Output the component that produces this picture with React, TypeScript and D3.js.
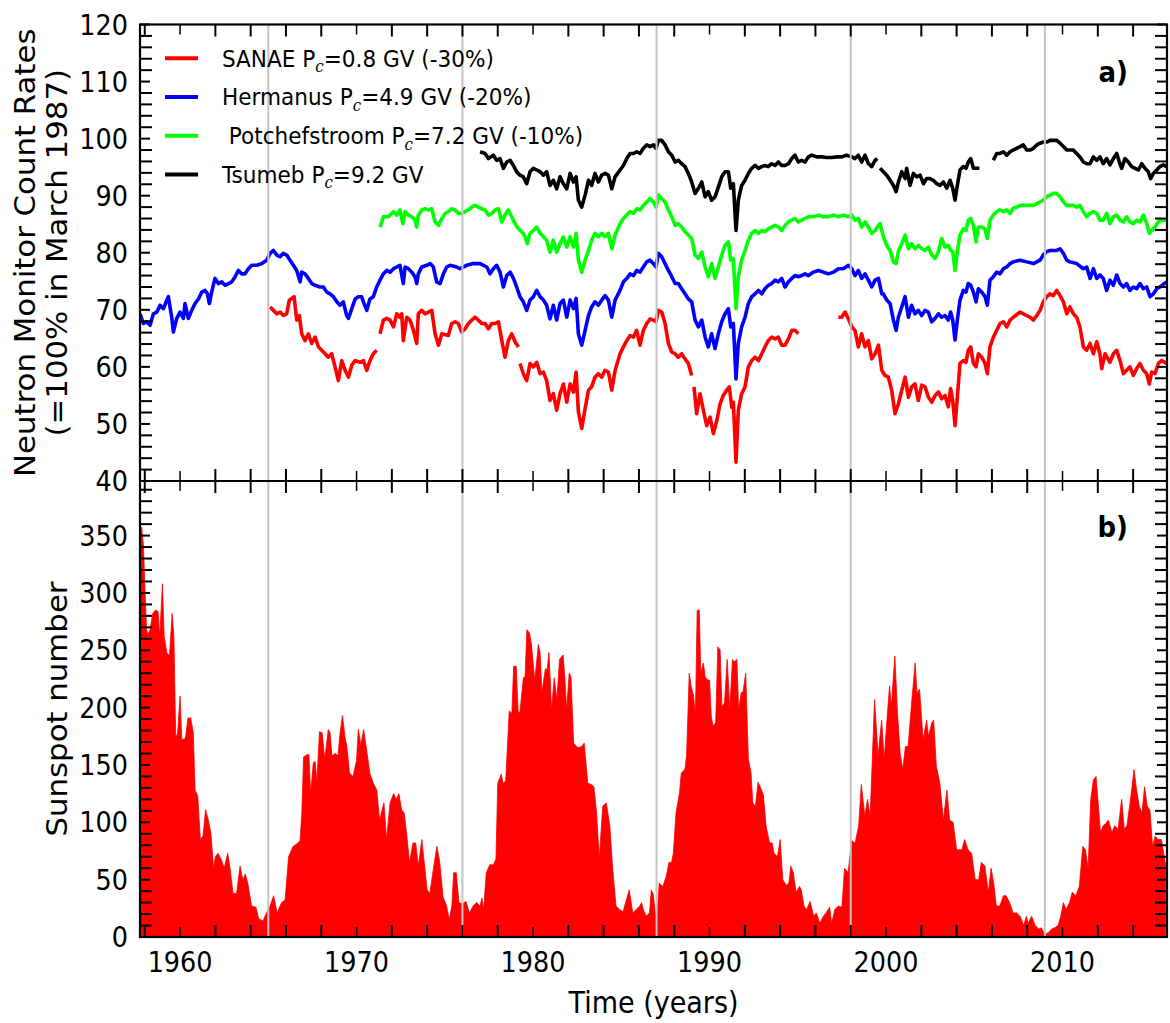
import React from 'react';
import * as d3 from 'd3';

type Pt = [number, number] | null;

// ---------------- DATA ----------------
// SANAE (Pc=0.8 GV, shifted -30%), null = data gap
const sanae: Pt[] = [
  [1965.10,70.5],[1965.29,69.9],[1965.48,69.3],[1965.67,69.6],[1965.85,69.0],[1966.04,69.3],[1966.19,71.7],[1966.33,72.0],[1966.46,72.3],[1966.61,68.2],[1966.76,69.0],[1966.89,65.8],[1967.08,64.6],[1967.27,65.8],[1967.46,64.1],[1967.65,65.2],[1967.84,63.5],[1968.03,62.9],[1968.22,62.3],[1968.40,61.7],[1968.59,62.3],[1968.78,60.0],[1968.97,57.6],[1969.16,61.1],[1969.35,59.4],[1969.54,58.2],[1969.73,60.3],[1969.92,61.1],[1970.20,60.8],[1970.39,61.1],[1970.58,59.4],[1970.76,61.1],[1970.95,62.3],[1971.14,62.9],
  null,
  [1971.33,65.8],[1971.52,68.2],[1971.71,68.5],[1971.90,68.2],[1972.09,67.0],[1972.28,69.3],[1972.46,68.7],[1972.56,69.3],[1972.65,64.6],[1972.84,68.7],[1973.03,68.2],[1973.13,67.3],[1973.22,66.4],[1973.41,64.1],[1973.50,69.3],[1973.69,69.9],[1973.88,69.3],[1974.07,69.6],[1974.26,69.9],[1974.45,65.8],[1974.64,63.8],[1974.83,65.8],[1975.20,65.5],[1975.39,67.6],[1975.58,67.9],[1975.77,67.6],[1975.96,66.1],[1976.15,66.7],[1976.34,67.6],[1976.53,68.2],[1976.71,68.7],[1976.90,68.2],[1977.09,67.6],[1977.28,67.6],[1977.47,66.7],[1977.66,67.6],[1977.85,67.6],[1978.04,67.9],[1978.23,64.6],[1978.41,61.7],[1978.60,64.6],[1978.79,65.8],[1978.98,64.4],[1979.17,63.5],
  null,
  [1979.26,60.6],[1979.45,58.8],[1979.64,57.6],[1979.83,60.6],[1980.02,60.0],[1980.21,60.8],[1980.40,58.8],[1980.59,59.1],[1980.77,57.6],[1980.96,54.1],[1981.15,55.3],[1981.34,52.4],[1981.53,55.3],[1981.72,57.0],[1981.91,53.8],[1982.10,57.0],[1982.29,55.6],[1982.44,59.1],[1982.57,52.1],[1982.76,49.2],[1982.95,52.7],[1983.14,55.9],[1983.32,56.5],[1983.51,58.2],[1983.70,58.8],[1983.89,58.2],[1984.08,59.4],[1984.27,59.1],[1984.46,55.9],[1984.65,59.4],[1984.93,62.3],[1985.12,63.5],[1985.31,64.6],[1985.50,65.5],[1985.69,65.2],[1985.87,66.4],[1986.06,63.8],[1986.25,66.4],[1986.44,67.6],[1986.63,68.4],[1986.82,68.2],[1986.97,67.9],[1987.10,69.9],[1987.29,69.6],[1987.48,67.6],[1987.67,64.1],[1987.86,62.6],[1988.05,62.3],[1988.23,61.7],[1988.42,62.3],[1988.61,61.4],[1988.80,60.6],[1988.99,58.5],
  null,
  [1989.12,56.5],[1989.27,51.8],[1989.46,55.3],[1989.65,52.4],[1989.84,49.7],[1990.03,51.2],[1990.22,48.3],[1990.41,50.6],[1990.60,53.5],[1990.78,55.0],[1990.97,55.9],[1991.12,56.5],[1991.26,52.9],[1991.35,53.8],[1991.50,43.3],[1991.63,52.4],[1991.82,55.3],[1992.01,56.5],[1992.20,60.0],[1992.39,61.1],[1992.58,61.7],[1992.77,61.1],[1992.96,62.3],[1993.14,63.5],[1993.33,64.6],[1993.52,65.2],[1993.71,64.9],[1993.90,65.2],[1994.09,63.8],[1994.28,63.8],[1994.47,64.9],[1994.66,66.4],[1994.84,66.4],[1995.03,65.8],
  null,
  [1997.30,68.7],[1997.49,68.7],[1997.68,69.6],[1997.87,68.4],[1998.06,67.0],[1998.24,66.4],[1998.43,63.5],[1998.62,65.8],[1998.81,63.5],[1999.00,64.6],[1999.19,61.4],[1999.38,62.3],[1999.57,63.8],[1999.76,59.4],[1999.94,58.5],[2000.13,58.2],[2000.32,55.9],[2000.51,51.8],[2000.70,53.5],[2000.89,55.9],[2001.08,58.2],[2001.27,54.7],[2001.45,56.5],[2001.64,57.0],[2001.83,54.1],[2002.02,56.8],[2002.21,56.5],[2002.40,54.7],[2002.59,53.8],[2002.78,55.0],[2002.97,55.6],[2003.15,54.4],[2003.34,55.0],[2003.53,53.0],[2003.66,56.2],[2003.78,54.1],[2003.91,49.7],[2004.04,54.7],[2004.19,60.6],[2004.38,61.1],[2004.53,60.8],[2004.66,62.9],[2004.80,63.5],[2004.95,60.6],[2005.10,60.0],[2005.23,62.3],[2005.42,61.7],[2005.61,60.6],[2005.74,58.8],[2005.89,63.5],[2006.08,65.2],[2006.27,66.4],[2006.46,67.6],[2006.65,67.9],[2006.84,67.0],[2007.03,68.2],[2007.21,68.7],[2007.59,69.6],[2007.78,69.3],[2008.16,68.7],[2008.35,68.2],[2008.54,69.0],[2008.73,69.9],[2008.91,71.4],[2009.10,72.3],[2009.29,72.8],[2009.48,72.5],[2009.67,73.4],[2009.86,72.5],[2010.05,71.4],[2010.24,69.3],[2010.42,70.5],[2010.61,69.3],[2010.80,68.7],[2010.99,67.0],[2011.18,63.5],[2011.37,62.9],[2011.56,64.1],[2011.75,62.3],[2011.94,64.4],[2012.12,62.3],[2012.22,59.7],[2012.41,62.3],[2012.69,60.8],[2012.88,62.3],[2013.07,62.9],[2013.26,61.1],[2013.45,58.8],[2013.63,59.4],[2013.82,60.0],[2014.01,58.5],[2014.20,59.7],[2014.39,60.6],[2014.58,59.4],[2014.77,58.8],[2014.92,57.0],[2015.05,59.1],[2015.24,58.8],[2015.43,60.6],[2015.62,61.1],[2015.90,60.6]
];

// Hermanus (Pc=4.9 GV, shifted -20%)
const hermanus: Pt[] = [
  [1957.73,69.3],[1957.92,67.6],[1958.11,67.9],[1958.30,67.3],[1958.49,69.3],[1958.68,69.6],[1958.87,70.8],[1959.06,70.2],[1959.21,71.4],[1959.34,72.3],[1959.43,70.5],[1959.53,68.7],[1959.62,66.1],[1959.81,68.5],[1960.00,69.6],[1960.19,68.5],[1960.28,71.1],[1960.47,68.5],[1960.66,69.9],[1960.85,71.1],[1961.04,71.9],[1961.23,73.1],[1961.42,73.4],[1961.55,72.8],[1961.66,71.1],[1961.79,73.1],[1961.98,75.5],[1962.17,74.6],[1962.36,74.9],[1962.55,74.3],[1962.74,74.6],[1962.93,74.9],[1963.12,75.8],[1963.30,76.9],[1963.49,76.3],[1963.68,76.3],[1963.87,77.2],[1964.06,77.8],[1964.34,77.8],[1964.63,78.1],[1964.91,78.7],[1965.10,79.9],[1965.29,80.4],[1965.48,79.6],[1965.67,79.3],[1965.85,79.9],[1966.04,79.6],[1966.23,78.7],[1966.42,77.8],[1966.61,76.9],[1966.80,74.9],[1966.89,76.6],[1967.08,76.3],[1967.27,75.5],[1967.46,74.6],[1967.65,74.3],[1967.93,74.0],[1968.12,74.0],[1968.31,73.1],[1968.50,72.8],[1968.69,72.3],[1968.88,71.4],[1969.06,70.8],[1969.25,71.4],[1969.44,69.0],[1969.54,68.5],[1969.73,70.2],[1969.92,71.9],[1970.10,72.3],[1970.29,72.3],[1970.39,71.4],[1970.58,69.9],[1970.76,71.9],[1970.95,72.3],[1971.14,74.0],[1971.33,75.2],[1971.52,76.3],[1971.71,76.9],[1971.90,76.6],[1972.09,77.2],[1972.28,77.5],[1972.46,77.8],[1972.65,74.6],[1972.75,77.5],[1972.94,77.2],[1973.13,76.6],[1973.31,75.8],[1973.41,74.6],[1973.50,76.3],[1973.69,77.5],[1973.98,77.8],[1974.17,78.1],[1974.35,77.5],[1974.54,74.9],[1974.73,74.6],[1974.92,76.3],[1975.11,77.5],[1975.30,77.8],[1975.68,77.5],[1975.86,77.2],[1976.24,77.8],[1976.62,78.1],[1977.00,78.1],[1977.38,77.5],[1977.56,76.3],[1977.75,77.2],[1977.94,77.8],[1978.13,76.6],[1978.32,74.0],[1978.51,76.0],[1978.70,76.6],[1978.89,75.5],[1979.07,74.0],[1979.26,72.3],[1979.45,71.4],[1979.64,69.9],[1979.83,71.7],[1980.02,72.3],[1980.21,73.4],[1980.40,72.3],[1980.59,71.7],[1980.77,70.8],[1980.96,68.4],[1981.15,70.8],[1981.34,68.2],[1981.53,71.1],[1981.72,71.7],[1981.91,68.7],[1982.10,71.7],[1982.29,70.2],[1982.44,72.0],[1982.57,65.8],[1982.76,63.8],[1982.95,66.4],[1983.14,69.0],[1983.32,70.5],[1983.51,71.4],[1983.70,70.8],[1983.89,71.7],[1984.08,72.5],[1984.27,71.7],[1984.46,68.7],[1984.65,71.7],[1984.93,73.4],[1985.12,74.9],[1985.31,75.5],[1985.50,76.3],[1985.69,76.0],[1985.87,76.9],[1986.06,76.6],[1986.25,77.5],[1986.44,78.4],[1986.63,78.7],[1986.82,78.1],[1986.97,77.5],[1987.10,79.9],[1987.29,79.3],[1987.48,78.1],[1987.67,76.9],[1987.86,75.8],[1988.05,74.6],[1988.23,74.6],[1988.42,73.7],[1988.61,72.8],[1988.80,71.9],[1988.99,71.4],[1989.18,68.2],[1989.37,67.0],[1989.56,68.2],[1989.75,65.2],[1989.93,63.5],[1990.12,65.8],[1990.31,63.2],[1990.50,65.8],[1990.69,67.9],[1990.88,69.3],[1991.07,70.2],[1991.20,67.0],[1991.35,67.6],[1991.50,57.9],[1991.63,64.1],[1991.82,67.0],[1992.01,68.7],[1992.20,71.1],[1992.39,72.3],[1992.58,72.8],[1992.77,73.4],[1992.96,72.8],[1993.14,73.7],[1993.33,74.3],[1993.52,74.6],[1993.71,75.2],[1993.90,74.9],[1994.09,75.5],[1994.28,74.0],[1994.47,74.9],[1994.66,75.5],[1994.84,76.0],[1995.03,75.8],[1995.22,76.0],[1995.41,76.3],[1995.60,76.0],[1995.88,76.6],[1996.17,76.9],[1996.45,76.6],[1996.73,76.3],[1997.02,76.6],[1997.30,77.2],[1997.58,77.2],[1997.87,77.8],[1998.06,77.2],[1998.24,76.0],[1998.43,76.9],[1998.62,75.5],[1998.81,76.3],[1999.00,75.2],[1999.19,74.0],[1999.38,75.2],[1999.57,75.5],[1999.76,72.8],[1999.85,72.8],[2000.04,71.7],[2000.23,71.1],[2000.42,68.2],[2000.57,66.4],[2000.70,68.7],[2000.89,70.5],[2001.08,72.3],[2001.27,68.7],[2001.45,70.8],[2001.64,69.3],[2001.83,69.9],[2002.02,69.0],[2002.21,69.9],[2002.40,69.6],[2002.59,67.9],[2002.78,68.5],[2002.97,69.3],[2003.15,68.7],[2003.34,69.0],[2003.53,68.2],[2003.66,69.6],[2003.78,68.2],[2003.91,64.7],[2004.04,68.2],[2004.19,71.7],[2004.38,73.4],[2004.53,73.1],[2004.66,74.6],[2004.80,74.3],[2004.95,73.1],[2005.10,71.4],[2005.23,73.7],[2005.42,73.1],[2005.61,72.3],[2005.74,70.8],[2005.89,75.2],[2006.08,75.8],[2006.27,76.6],[2006.46,76.3],[2006.65,77.2],[2006.84,77.5],[2007.03,78.1],[2007.21,78.4],[2007.59,78.7],[2007.97,78.4],[2008.35,78.1],[2008.73,78.7],[2008.91,79.6],[2009.10,80.2],[2009.29,80.4],[2009.67,80.4],[2009.86,80.7],[2010.05,79.9],[2010.24,78.7],[2010.42,78.4],[2010.80,78.1],[2011.18,77.2],[2011.37,77.5],[2011.56,75.5],[2011.75,77.2],[2011.94,75.5],[2012.12,76.1],[2012.31,75.5],[2012.50,73.4],[2012.69,75.2],[2012.88,74.3],[2013.07,76.1],[2013.26,74.6],[2013.45,74.0],[2013.63,74.6],[2013.82,73.4],[2014.01,74.0],[2014.20,73.7],[2014.39,74.6],[2014.58,73.7],[2014.77,74.0],[2014.96,72.3],[2015.15,72.8],[2015.34,73.7],[2015.52,74.0],[2015.90,74.9]
];

// Potchefstroom (Pc=7.2 GV, shifted -10%)
const potchefstroom: Pt[] = [
  [1971.33,84.5],[1971.52,86.3],[1971.80,86.3],[1972.09,87.2],[1972.28,86.6],[1972.46,87.5],[1972.62,85.1],[1972.75,87.2],[1972.94,86.6],[1973.13,86.3],[1973.31,85.7],[1973.41,84.5],[1973.50,86.6],[1973.69,87.5],[1973.88,87.7],[1974.07,87.5],[1974.26,87.7],[1974.45,85.4],[1974.64,84.8],[1974.83,86.0],[1975.02,86.9],[1975.20,87.2],[1975.39,87.7],[1975.58,87.5],[1975.77,86.9],[1975.96,86.9],[1976.15,87.2],[1976.34,87.5],[1976.53,88.0],[1976.71,88.3],[1976.90,88.0],[1977.09,87.7],[1977.28,87.5],[1977.47,86.6],[1977.66,86.9],[1977.85,87.5],[1978.04,87.7],[1978.23,85.4],[1978.41,86.6],[1978.60,87.5],[1978.79,86.3],[1978.98,85.1],[1979.17,84.2],[1979.36,83.7],[1979.55,82.8],[1979.68,81.6],[1979.83,83.4],[1980.02,83.9],[1980.21,84.5],[1980.40,83.4],[1980.59,82.8],[1980.77,82.2],[1980.96,80.1],[1981.15,82.2],[1981.34,80.1],[1981.53,81.6],[1981.72,82.8],[1981.91,81.0],[1982.10,82.8],[1982.29,81.0],[1982.44,83.4],[1982.57,78.7],[1982.76,76.6],[1982.95,78.7],[1983.14,80.4],[1983.32,82.2],[1983.51,83.4],[1983.70,82.8],[1983.89,83.4],[1984.08,82.8],[1984.27,83.4],[1984.46,80.7],[1984.65,83.1],[1984.93,85.1],[1985.12,86.0],[1985.31,86.6],[1985.50,87.2],[1985.69,86.9],[1985.87,87.7],[1986.06,87.5],[1986.25,88.3],[1986.44,88.9],[1986.63,89.5],[1986.82,88.9],[1986.97,88.0],[1987.10,90.1],[1987.29,89.5],[1987.48,88.9],[1987.67,87.5],[1987.86,86.3],[1988.05,84.8],[1988.23,85.1],[1988.42,84.5],[1988.61,83.7],[1988.80,83.1],[1988.99,82.5],[1989.18,79.6],[1989.37,79.0],[1989.56,80.1],[1989.75,77.5],[1989.93,75.8],[1990.12,78.1],[1990.31,75.5],[1990.50,77.5],[1990.69,79.6],[1990.88,81.3],[1991.07,81.9],[1991.20,78.7],[1991.35,79.0],[1991.50,70.2],[1991.63,75.8],[1991.82,78.7],[1992.01,80.4],[1992.20,82.2],[1992.39,83.4],[1992.58,83.9],[1992.77,83.4],[1992.96,83.9],[1993.14,83.7],[1993.33,84.2],[1993.52,84.5],[1993.71,84.8],[1993.90,84.5],[1994.09,83.9],[1994.28,84.8],[1994.47,85.4],[1994.66,85.7],[1994.84,86.0],[1995.03,85.4],[1995.22,85.7],[1995.41,86.0],[1995.60,86.3],[1995.88,86.3],[1996.17,86.6],[1996.45,86.3],[1996.73,86.3],[1997.02,86.6],[1997.30,86.3],[1997.58,86.6],[1997.87,86.3],[1998.06,86.6],[1998.24,85.7],[1998.43,86.0],[1998.62,84.5],[1998.81,85.4],[1999.00,84.5],[1999.19,83.4],[1999.38,83.9],[1999.57,84.8],[1999.66,85.1],[1999.85,82.8],[2000.04,81.3],[2000.23,80.4],[2000.42,78.4],[2000.57,78.1],[2000.70,80.2],[2000.89,81.6],[2001.08,83.1],[2001.27,80.7],[2001.45,81.6],[2001.64,80.7],[2001.83,81.3],[2002.02,80.7],[2002.21,80.4],[2002.40,81.0],[2002.59,79.6],[2002.78,79.0],[2002.97,80.2],[2003.15,82.5],[2003.34,81.0],[2003.53,81.3],[2003.66,80.4],[2003.78,80.2],[2003.91,76.9],[2004.04,80.2],[2004.19,83.1],[2004.38,84.2],[2004.53,83.9],[2004.66,85.7],[2004.80,86.0],[2004.95,84.8],[2005.10,81.9],[2005.23,84.5],[2005.42,84.5],[2005.61,84.2],[2005.74,82.5],[2005.89,85.7],[2006.08,86.6],[2006.27,87.2],[2006.46,87.5],[2006.65,87.2],[2006.84,87.5],[2007.03,86.9],[2007.21,87.8],[2007.40,88.0],[2007.59,88.3],[2007.97,88.3],[2008.35,88.3],[2008.54,88.6],[2008.73,88.9],[2008.91,89.2],[2009.10,89.8],[2009.29,90.1],[2009.48,90.4],[2009.67,90.4],[2009.86,89.8],[2010.05,88.9],[2010.24,88.3],[2010.61,88.3],[2010.80,88.0],[2010.99,88.3],[2011.18,87.2],[2011.37,86.3],[2011.56,86.9],[2011.75,87.2],[2011.94,86.9],[2012.12,85.7],[2012.31,85.7],[2012.50,86.9],[2012.69,85.1],[2012.88,86.3],[2013.07,86.6],[2013.26,85.7],[2013.45,85.4],[2013.63,86.3],[2013.82,85.4],[2014.01,85.1],[2014.20,85.7],[2014.39,85.4],[2014.58,86.6],[2014.77,85.1],[2014.92,83.4],[2015.05,83.9],[2015.24,84.5],[2015.43,85.4],[2015.62,85.7],[2015.90,85.7]
];

// Tsumeb (Pc=9.2 GV)
const tsumeb: Pt[] = [
  [1977.00,97.7],[1977.28,97.4],[1977.47,96.5],[1977.75,97.1],[1977.94,96.2],[1978.13,96.5],[1978.32,94.8],[1978.51,95.9],[1978.70,96.2],[1978.89,95.3],[1979.07,94.2],[1979.26,93.6],[1979.45,93.3],[1979.64,92.1],[1979.83,94.2],[1980.02,94.8],[1980.21,94.5],[1980.40,94.2],[1980.59,93.6],[1980.77,94.2],[1980.96,91.8],[1981.15,92.7],[1981.34,91.2],[1981.53,93.3],[1981.72,92.1],[1981.91,91.2],[1982.10,93.9],[1982.29,92.4],[1982.44,93.3],[1982.57,89.2],[1982.76,88.0],[1982.95,90.1],[1983.14,92.7],[1983.32,91.8],[1983.51,93.9],[1983.70,92.4],[1983.89,93.6],[1984.08,93.9],[1984.27,93.6],[1984.46,91.2],[1984.65,93.3],[1984.93,94.5],[1985.12,95.3],[1985.31,96.5],[1985.50,97.4],[1985.69,97.4],[1985.87,97.7],[1986.06,97.4],[1986.25,98.3],[1986.44,98.9],[1986.63,98.6],[1986.82,98.9],[1986.97,98.3],[1987.10,99.7],[1987.29,99.7],[1987.48,98.9],[1987.67,97.7],[1987.86,97.1],[1988.05,95.9],[1988.23,96.2],[1988.42,95.6],[1988.61,95.1],[1988.80,93.9],[1988.99,92.4],[1989.18,90.4],[1989.37,91.3],[1989.56,92.4],[1989.75,89.8],[1989.93,90.7],[1990.12,89.2],[1990.31,89.8],[1990.50,91.5],[1990.69,93.3],[1990.88,94.2],[1991.07,94.2],[1991.20,91.3],[1991.35,92.1],[1991.50,83.9],[1991.63,89.2],[1991.82,91.8],[1992.01,92.7],[1992.20,93.9],[1992.39,94.8],[1992.58,95.3],[1992.77,94.8],[1992.96,95.1],[1993.14,95.3],[1993.33,95.1],[1993.52,95.6],[1993.71,95.3],[1993.90,95.9],[1994.09,95.3],[1994.28,95.3],[1994.47,95.6],[1994.66,96.5],[1994.84,97.1],[1995.03,95.9],[1995.22,96.2],[1995.41,95.9],[1995.60,96.8],[1995.79,97.1],[1996.07,96.8],[1996.36,96.8],[1996.64,96.7],[1996.92,96.7],[1997.21,96.8],[1997.49,96.8],[1997.77,97.1],[1998.06,96.8],[1998.24,96.5],[1998.43,97.1],[1998.62,95.9],[1998.81,97.1],[1999.00,95.6],[1999.19,95.1],[1999.38,96.2],[1999.51,96.5],
  null,
  [1999.66,94.8],[1999.85,94.2],[2000.04,93.6],[2000.23,92.7],[2000.42,91.8],[2000.57,90.7],[2000.70,92.4],[2000.89,94.2],[2001.08,93.0],[2001.17,94.8],[2001.36,91.8],[2001.55,93.9],[2001.74,93.3],[2001.93,93.6],[2002.12,92.1],[2002.30,93.0],[2002.49,93.0],[2002.68,92.7],[2002.87,92.1],[2003.06,91.8],[2003.25,92.4],[2003.44,91.3],[2003.63,92.7],[2003.78,91.3],[2003.91,89.2],[2004.04,91.8],[2004.19,94.5],[2004.38,95.1],[2004.53,94.8],[2004.66,95.9],[2004.80,96.5],[2004.95,94.8],[2005.14,94.8],[2005.29,94.8],
  null,
  [2006.08,96.2],[2006.27,97.4],[2006.46,97.4],[2006.65,97.7],[2006.84,97.1],[2007.03,97.7],[2007.21,98.0],[2007.40,98.3],[2007.59,98.6],[2007.78,98.9],[2007.97,98.0],[2008.16,98.0],[2008.35,98.3],[2008.54,98.9],[2008.73,99.2],[2008.91,99.4],[2009.10,99.4],[2009.29,99.7],[2009.48,99.7],[2009.67,99.7],[2009.86,99.2],[2010.05,98.6],[2010.24,98.0],[2010.42,98.0],[2010.61,98.0],[2010.80,97.4],[2010.99,96.8],[2011.18,95.9],[2011.37,95.6],[2011.56,95.6],[2011.75,96.8],[2011.94,96.2],[2012.12,96.8],[2012.31,95.6],[2012.50,96.5],[2012.69,95.4],[2012.88,96.5],[2013.07,97.4],[2013.22,95.9],[2013.35,94.8],[2013.54,96.5],[2013.73,95.9],[2013.92,95.1],[2014.11,94.8],[2014.30,94.5],[2014.49,95.6],[2014.67,94.8],[2014.86,94.2],[2014.99,93.0],[2015.15,93.9],[2015.34,94.5],[2015.52,95.1],[2015.71,95.4],[2015.90,95.1]
];

// Sunspot number
const sunspots: [number, number][] = [
  [1957.74,358],[1957.83,357],[1957.93,340],[1958.02,300],[1958.1,268],[1958.2,264],[1958.3,268],[1958.45,282],[1958.6,285],[1958.75,284],[1958.85,262],[1959.0,308],[1959.1,262],[1959.25,248],[1959.4,245],[1959.55,282],[1959.65,262],[1959.75,177],[1959.85,175],[1960.0,210],[1960.1,172],[1960.3,173],[1960.45,191],[1960.6,191],[1960.75,178],[1960.85,128],[1961.0,123],[1961.15,85],[1961.3,88],[1961.45,111],[1961.6,102],[1961.75,90],[1961.9,60],[1962.0,70],[1962.15,73],[1962.35,67],[1962.5,60],[1962.7,73],[1962.85,58],[1963.0,38],[1963.2,38],[1963.4,62],[1963.55,50],[1963.7,55],[1963.85,46],[1964.05,27],[1964.3,26],[1964.45,16],[1964.7,14],[1964.9,21],[1965.1,27],[1965.3,36],[1965.5,21],[1965.75,30],[1965.95,32],[1966.15,70],[1966.4,79],[1966.6,81],[1966.8,84],[1966.9,108],[1967.0,157],[1967.2,159],[1967.3,159],[1967.4,125],[1967.55,152],[1967.65,153],[1967.75,135],[1967.9,179],[1968.05,178],[1968.2,155],[1968.4,181],[1968.5,178],[1968.6,158],[1968.8,160],[1968.95,158],[1969.05,176],[1969.2,193],[1969.35,174],[1969.45,166],[1969.6,143],[1969.8,140],[1970.0,154],[1970.1,181],[1970.25,167],[1970.4,181],[1970.6,160],[1970.75,143],[1970.95,134],[1971.15,128],[1971.3,102],[1971.4,108],[1971.55,117],[1971.7,85],[1971.9,117],[1972.1,125],[1972.25,120],[1972.4,125],[1972.55,111],[1972.7,108],[1972.85,88],[1973.0,65],[1973.2,82],[1973.35,82],[1973.5,62],[1973.7,85],[1973.8,70],[1974.0,41],[1974.15,38],[1974.35,59],[1974.55,79],[1974.7,67],[1974.9,35],[1975.1,27],[1975.25,15],[1975.4,27],[1975.5,56],[1975.65,56],[1975.8,30],[1976.0,29],[1976.2,31],[1976.4,21],[1976.6,27],[1976.8,30],[1977.0,27],
  [1977.1,34],[1977.2,24],[1977.35,56],[1977.55,63],[1977.75,63],[1977.9,68],[1978.0,134],[1978.2,142],[1978.3,134],[1978.45,136],[1978.65,197],[1978.8,195],[1978.9,236],[1979.05,236],[1979.15,197],[1979.25,195],[1979.45,226],[1979.55,227],[1979.65,268],[1979.8,265],[1979.9,256],[1980.1,224],[1980.3,255],[1980.4,248],[1980.5,213],[1980.7,234],[1980.8,233],[1980.9,248],[1981.05,198],[1981.2,226],[1981.35,207],[1981.5,242],[1981.7,246],[1981.8,227],[1981.9,198],[1982.05,230],[1982.15,227],[1982.3,169],[1982.55,165],[1982.75,166],[1982.9,169],[1983.1,134],[1983.3,133],[1983.45,131],[1983.6,108],[1983.75,68],[1983.95,114],[1984.15,117],[1984.35,97],[1984.5,62],[1984.7,27],[1984.9,24],[1985.1,22],[1985.3,33],[1985.45,41],[1985.65,21],[1985.85,24],[1986.05,27],[1986.15,30],[1986.25,24],[1986.4,18],[1986.6,21],[1986.7,41],[1986.8,38],[1987.0,12],[1987.15,47],[1987.35,44],[1987.55,53],[1987.7,65],[1987.85,65],[1987.95,73],[1988.1,108],[1988.3,126],[1988.4,143],[1988.6,146],[1988.7,158],[1988.85,230],[1988.95,219],[1989.1,210],[1989.2,192],[1989.3,285],[1989.42,285],[1989.5,230],[1989.65,239],[1989.75,227],[1989.9,224],[1990.0,224],[1990.1,192],[1990.2,184],[1990.35,187],[1990.47,253],[1990.6,250],[1990.7,201],[1990.85,204],[1991.0,242],[1991.15,198],[1991.3,242],[1991.4,240],[1991.55,242],[1991.65,198],[1991.8,213],[1991.9,214],[1992.05,230],[1992.2,155],[1992.35,143],[1992.45,117],[1992.6,114],[1992.75,135],[1992.9,130],[1993.05,124],[1993.2,97],[1993.4,82],[1993.55,82],[1993.65,73],[1993.85,70],[1994.0,85],[1994.15,50],[1994.35,45],[1994.5,47],[1994.6,62],[1994.75,56],[1994.9,39],[1995.1,44],[1995.2,41],[1995.35,27],[1995.5,24],
  [1995.7,31],[1995.9,18],[1996.05,21],[1996.25,12],[1996.45,18],[1996.6,21],[1996.8,26],[1996.92,12],[1997.1,24],[1997.3,27],[1997.5,26],[1997.65,60],[1997.85,56],[1998.05,84],[1998.25,82],[1998.45,97],[1998.6,133],[1998.8,105],[1998.95,120],[1999.1,105],[1999.35,207],[1999.55,158],[1999.75,189],[1999.9,155],[2000.05,189],[2000.2,219],[2000.3,201],[2000.5,245],[2000.65,195],[2000.8,160],[2000.95,146],[2001.1,166],[2001.25,166],[2001.45,204],[2001.65,239],[2001.75,213],[2001.9,216],[2002.1,172],[2002.3,189],[2002.4,175],[2002.6,187],[2002.7,189],[2002.85,149],[2003.05,134],[2003.25,102],[2003.45,128],[2003.6,102],[2003.8,100],[2004.0,76],[2004.15,76],[2004.3,76],[2004.45,85],[2004.65,76],[2004.85,73],[2005.05,50],[2005.25,50],[2005.4,65],[2005.6,62],[2005.8,39],[2005.95,60],[2006.1,47],[2006.25,27],[2006.45,27],[2006.65,36],[2006.8,36],[2007.0,30],[2007.2,21],[2007.4,21],[2007.6,18],[2007.8,10],[2007.95,18],[2008.05,12],[2008.25,18],[2008.45,10],[2008.65,7],[2008.8,8],[2009.0,2],[2009.2,4],[2009.4,7],[2009.55,8],[2009.75,10],[2009.9,18],[2010.05,30],[2010.2,24],[2010.4,30],[2010.55,39],[2010.75,36],[2010.95,44],[2011.15,79],[2011.3,76],[2011.45,59],[2011.6,120],[2011.75,137],[2011.9,140],[2012.05,111],[2012.15,91],[2012.3,97],[2012.45,99],[2012.6,102],[2012.8,91],[2012.95,97],[2013.15,94],[2013.35,120],[2013.5,94],[2013.65,97],[2013.8,114],[2013.9,126],[2014.05,146],[2014.2,128],[2014.35,114],[2014.5,108],[2014.65,131],[2014.8,114],[2014.95,111],[2015.1,79],[2015.25,88],[2015.4,85],[2015.6,85],[2015.85,62]
];

const minimaYears = [1965, 1976, 1987, 1998, 2009];
const xTickLabels = [1960, 1970, 1980, 1990, 2000, 2010];
const nmTickLabels = [40, 50, 60, 70, 80, 90, 100, 110, 120];
const ssTickLabels = [0, 50, 100, 150, 200, 250, 300, 350];

const legendNames = ['SANAE', 'Hermanus', ' Potchefstroom', 'Tsumeb'];
const legendRigidity = ['0.8', '4.9', '7.2', '9.2'];
const legendShift = [' (-30%)', ' (-20%)', ' (-10%)', ''];
const seriesColors = ['#ff0000', '#0000ff', '#00ff00', '#000000'];
const seriesData = [sanae, hermanus, potchefstroom, tsumeb];

// ---------------- LAYOUT ----------------
const W = 1170, H = 1023;
const L = 140, R = 1167, T1 = 24.5, MID = 481, B2 = 937;
const FONT = 'DejaVu Sans, sans-serif';

export default function App() {
  const x = d3.scaleLinear().domain([1957.73, 2015.92]).range([L, R]);
  const yNM = d3.scaleLinear().domain([40, 120]).range([MID, T1]);
  const ySS = d3.scaleLinear().domain([0, 397.6]).range([B2, MID]);

  const line = d3.line<Pt>()
    .defined(d => d !== null)
    .x(d => x((d as [number, number])[0]))
    .y(d => yNM((d as [number, number])[1]));

  const area = d3.area<[number, number]>()
    .x(d => x(d[0]))
    .y0(ySS(0))
    .y1(d => ySS(d[1]));

  const xTicks = d3.range(1958, 2016, 2);
  const nmTicks = d3.range(40, 121, 2);
  const ssTicks = d3.range(0, 391, 10);

  const tickMajor = 10, tickMinor = 12;
  const tickEls: JSX.Element[] = [];
  const edges: [number, number][] = [[T1, 1], [MID, -1], [MID, 1], [B2, -1]];
  xTicks.forEach(t => {
    const major = t % 10 === 0;
    const len = major ? tickMajor : tickMinor;
    edges.forEach(([ey, dir], i) => {
      tickEls.push(<line key={`xt${t}-${i}`} x1={x(t)} x2={x(t)} y1={ey} y2={ey + dir * len} stroke="#000" strokeWidth={major ? 1.5 : 2} />);
    });
  });
  nmTicks.forEach(t => {
    const major = t % 10 === 0;
    const len = major ? tickMajor : tickMinor;
    const yy = yNM(t);
    tickEls.push(<line key={`nl${t}`} x1={L} x2={L + len} y1={yy} y2={yy} stroke="#000" strokeWidth={2} />);
    tickEls.push(<line key={`nr${t}`} x1={R} x2={R - len} y1={yy} y2={yy} stroke="#000" strokeWidth={2} />);
  });
  ssTicks.forEach(t => {
    const major = t % 50 === 0;
    const len = major ? tickMajor : tickMinor;
    const yy = ySS(t);
    tickEls.push(<line key={`sl${t}`} x1={L} x2={L + len} y1={yy} y2={yy} stroke="#000" strokeWidth={2} />);
    tickEls.push(<line key={`sr${t}`} x1={R} x2={R - len} y1={yy} y2={yy} stroke="#000" strokeWidth={2} />);
  });

  const tickFs = 25.5, sy = 1.1;

  return (
    <svg width={W} height={H} style={{ position: 'absolute', left: 0, top: 0, background: '#fff' }} fontFamily={FONT}>
      <defs>
        <clipPath id="clipTop"><rect x={L} y={T1} width={R - L} height={MID - T1} /></clipPath>
        <clipPath id="clipBot"><rect x={L} y={MID} width={R - L} height={B2 - MID} /></clipPath>
      </defs>
      <rect x={0} y={0} width={W} height={H} fill="#fff" />

      <g clipPath="url(#clipBot)">
        <path d={area(sunspots) || ''} fill="#ff0000" stroke="#ff0000" strokeWidth={0.8} />
      </g>

      <g clipPath="url(#clipTop)">
        {seriesData.map((s, i) => (
          <path key={i} d={line(s) || ''} fill="none" stroke={seriesColors[i]} strokeWidth={3.6} strokeLinejoin="round" />
        ))}
      </g>

      {minimaYears.map(yv => (
        <line key={yv} x1={x(yv)} x2={x(yv)} y1={T1} y2={B2} stroke="#c4c4c4" strokeWidth={2} />
      ))}

      <rect x={L} y={T1} width={R - L} height={B2 - T1} fill="none" stroke="#000" strokeWidth={2.2} />
      <line x1={L} x2={R} y1={MID} y2={MID} stroke="#000" strokeWidth={2.2} />
      {tickEls}

      {nmTickLabels.map(t => (
        <text key={`nml${t}`} transform={`translate(${128},${yNM(t) + 10}) scale(1,${sy})`} fontSize={tickFs} textAnchor="end" fill="#000">{t}</text>
      ))}
      {ssTickLabels.map(t => (
        <text key={`ssl${t}`} transform={`translate(${128},${ySS(t) + 10}) scale(1,${sy})`} fontSize={tickFs} textAnchor="end" fill="#000">{t}</text>
      ))}
      {xTickLabels.map(t => (
        <text key={`xl${t}`} transform={`translate(${x(t)},${971.5}) scale(1,${sy})`} fontSize={tickFs} textAnchor="middle" fill="#000">{t}</text>
      ))}

      <text transform={`translate(35,${(T1 + MID) / 2}) rotate(-90) scale(1.12,1)`} fontSize={27.5} textAnchor="middle" fill="#000">Neutron Monitor Count Rates</text>
      <text transform={`translate(66.5,${(T1 + MID) / 2}) rotate(-90) scale(1.12,1)`} fontSize={27.5} textAnchor="middle" fill="#000">(=100% in March 1987)</text>
      <text transform={`translate(66.5,${(MID + B2) / 2}) rotate(-90) scale(1.12,1)`} fontSize={27.5} textAnchor="middle" fill="#000">Sunspot number</text>
      <text transform={`translate(${(L + R) / 2},1013) scale(1,1.12)`} fontSize={27} textAnchor="middle" fill="#000">Time (years)</text>

      <text transform={`translate(1128,82) scale(1,1.1)`} fontSize={26} fontWeight="bold" textAnchor="end" fill="#000">a)</text>
      <text transform={`translate(1128,537) scale(1,1.1)`} fontSize={26} fontWeight="bold" textAnchor="end" fill="#000">b)</text>

      {legendNames.map((name, i) => {
        const ly = 58.3 + i * 38.7;
        const lead = name.startsWith(' ') ? 6.8 : 0;
        return (
          <g key={name}>
            <line x1={165} x2={198} y1={ly} y2={ly} stroke={seriesColors[i]} strokeWidth={4} />
            <text transform={`translate(${222 + lead},${ly + 8.4}) scale(1,1.1)`} fontSize={21.6} fill="#000">
              {name.trim()} P<tspan fontFamily="DejaVu Serif, serif" fontStyle="italic" fontSize={15} dy={5}>c</tspan>
              <tspan dy={-5}>={legendRigidity[i]} GV{legendShift[i]}</tspan>
            </text>
          </g>
        );
      })}
    </svg>
  );
}
